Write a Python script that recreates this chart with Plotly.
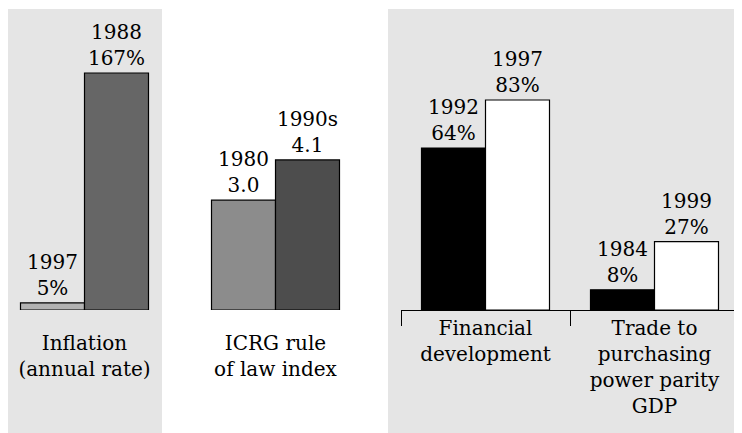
import plotly.graph_objects as go

# ---- data ----
infl_category = ["Inflation<br>(annual rate)"]
infl_years = ["1997", "1988"]
infl_values = [5, 167]

icrg_category = ["ICRG rule<br>of law index"]
icrg_years = ["1980", "1990s"]
icrg_values = [3.0, 4.1]

fin_categories = ["Financial<br>development", "Trade to<br>purchasing<br>power parity<br>GDP"]
early_years = ["1992", "1984"]
early_values = [64, 8]
late_years = ["1997", "1999"]
late_values = [83, 27]

# ---- layout constants (pixels, in window coordinates) ----
OFF = 8                     # page body margin
W, H = 742 - OFF, 433 - OFF  # figure size
BASE = 310 - OFF            # baseline pixel from figure top
FONT = "DejaVu Serif"
FS = 20
BG = "#e5e5e5"

def fx(p):
    return (p - OFF) / W

def fy(p):
    return 1 - (p - OFF) / H

k1 = 237 / 167        # px per unit, panel 1
k2 = 36.6             # panel 2
k3 = 210 / 83         # panel 3

ydom = [fy(310), 1]
half = (150 / 169) / 2

fig = go.Figure()

def bar(x, y, text, color, xa, ya):
    return go.Bar(
        x=x, y=y, text=text, textposition="outside", cliponaxis=False,
        constraintext="none",
        outsidetextfont=dict(family=FONT, size=FS, color="black"),
        marker=dict(color=color, line=dict(color="black", width=1.2)),
        xaxis=xa, yaxis=ya, showlegend=False, hoverinfo="skip",
    )

fig.add_trace(bar(infl_category, [infl_values[0]], [f"{infl_years[0]}<br>{infl_values[0]}%"], "#b3b3b3", "x", "y"))
fig.add_trace(bar(infl_category, [infl_values[1]], [f"{infl_years[1]}<br>{infl_values[1]}%"], "#666666", "x", "y"))

fig.add_trace(bar(icrg_category, [icrg_values[0]], [f"{icrg_years[0]}<br>{icrg_values[0]:.1f}"], "#8c8c8c", "x2", "y2"))
fig.add_trace(bar(icrg_category, [icrg_values[1]], [f"{icrg_years[1]}<br>{icrg_values[1]:.1f}"], "#4d4d4d", "x2", "y2"))

fig.add_trace(bar(fin_categories, early_values, [f"{yr}<br>{v}%" for yr, v in zip(early_years, early_values)], "black", "x3", "y3"))
fig.add_trace(bar(fin_categories, late_values, [f"{yr}<br>{v}%" for yr, v in zip(late_years, late_values)], "white", "x3", "y3"))

tickfont = dict(family=FONT, size=FS, color="black")
common_x = dict(type="category", showgrid=False, zeroline=False, tickfont=tickfont,
                ticks="outside", ticklen=15, fixedrange=True)
common_y = dict(domain=ydom, visible=False, showgrid=False, zeroline=False, fixedrange=True)

fig.update_layout(
    width=W, height=H,
    margin=dict(l=0, r=0, t=0, b=0),
    paper_bgcolor="white", plot_bgcolor="rgba(0,0,0,0)",
    barmode="group", bargap=1 - 128 / 169, bargroupgap=0,
    font=dict(family=FONT, size=FS, color="black"),
    xaxis=dict(domain=[fx(84.5 - 75), fx(84.5 + 75)], range=[-half, half], anchor="y",
               showline=False, tickcolor="rgba(0,0,0,0)", **common_x),
    yaxis=dict(range=[0, BASE / k1], anchor="x", **common_y),
    xaxis2=dict(domain=[fx(275.5 - 75), fx(275.5 + 75)], range=[-half, half], anchor="y2",
                showline=False, tickcolor="rgba(0,0,0,0)", **common_x),
    yaxis2=dict(range=[0, BASE / k2], anchor="x2", **common_y),
    xaxis3=dict(domain=[fx(401), fx(739)], range=[-0.5, 1.5], anchor="y3",
                showline=True, linecolor="black", linewidth=1, tickcolor="black",
                tickwidth=1, tickson="boundaries", **common_x),
    yaxis3=dict(range=[0, BASE / k3], anchor="x3", **common_y),
    shapes=[
        dict(type="rect", xref="paper", yref="paper", x0=fx(7), x1=fx(162), y0=0, y1=fy(9),
             fillcolor=BG, line=dict(width=0), layer="below"),
        dict(type="rect", xref="paper", yref="paper", x0=fx(388), x1=1, y0=0, y1=fy(9),
             fillcolor=BG, line=dict(width=0), layer="below"),
    ],
)

fig.write_html("out.html")
